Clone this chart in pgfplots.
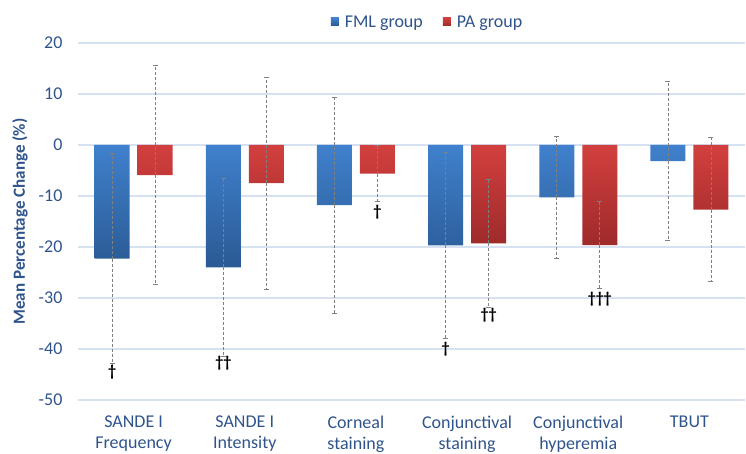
\documentclass[border=0pt]{standalone}
\usepackage{pgfplots}
\pgfplotsset{compat=1.18}
\usepackage{fontspec}
\setmainfont{Carlito}
\definecolor{txt}{RGB}{47,84,140}
\definecolor{blueT}{RGB}{64,128,204}
\definecolor{blueB}{RGB}{42,90,148}
\definecolor{redT}{RGB}{210,64,62}
\definecolor{redB}{RGB}{158,42,42}
\definecolor{gridc}{RGB}{214,226,242}
\pgfplotstableread{
x y e
0 -22.3 20.6
1 -24.0 17.4
2 -11.8 21.2
3 -19.7 18.3
4 -10.25 11.9
5 -3.15 15.55
}\fml
\pgfplotstableread{
x y e
0 -5.9 21.5
1 -7.5 20.8
2 -5.6 5.5
3 -19.3 12.5
4 -19.65 8.5
5 -12.65 14.05
}\pa
\begin{document}
\begin{tikzpicture}
\begin{axis}[
  scale only axis, width=667pt, height=357pt,
  xmin=-0.5, xmax=5.5, ymin=-50, ymax=20,
  ytick={-50,-40,...,20},
  xtick={0,...,5},
  xticklabels={{SANDE I\\Frequency},{SANDE I\\Intensity},{Corneal\\staining},{Conjunctival\\staining},{Conjunctival\\hyperemia},{TBUT}},
  xticklabel style={align=center, font=\fontsize{18}{21}\selectfont, text=txt, yshift=-12pt},
  yticklabel style={font=\fontsize{18}{22}\selectfont, text=txt, xshift=-12pt},
  /pgf/number format/assume math mode=true,
  axis line style={draw=none},
  major tick length=0pt,
  ymajorgrids, grid style={gridc, line width=1.2pt},
  ybar=8pt, bar width=35pt,
  ylabel={Mean Percentage Change (\%)},
  ylabel style={at={(axis description cs:-0.087,0.5)}, anchor=center, font=\bfseries\fontsize{17}{20}\selectfont, text=txt},
  legend columns=2,
  legend style={at={(0.5,1)}, anchor=center, yshift=21pt, xshift=16pt, draw=none, fill=none,
    font=\fontsize{18}{22}\selectfont, text=txt,
    /tikz/every odd column/.append style={column sep=4pt},
    /tikz/every even column/.append style={column sep=18pt}},
  legend image code/.code={\path[#1,draw=none] (0pt,-4pt) rectangle (8pt,4pt);},
  error bars/y dir=both, error bars/y explicit,
  error bars/error bar style={densely dashed, gray, line width=0.8pt},
  error bars/error mark options={solid, gray, mark size=2.5pt, line width=0.8pt, rotate=90},
]
\addplot[draw=none, top color=blueT, bottom color=blueB] table[x=x,y=y,y error=e] {\fml};
\addlegendentry{FML group}
\addplot[draw=none, top color=redT, bottom color=redB] table[x=x,y=y,y error=e] {\pa};
\addlegendentry{PA group}
\begin{scope}[every node/.style={font=\bfseries\fontsize{16}{16}\selectfont, text=black, inner sep=0pt}]
\node[xshift=-21.5pt] at (axis cs:0,-44.6) {†};
\node[xshift=-21.5pt] at (axis cs:1,-42.8) {††};
\node[xshift=21.5pt] at (axis cs:2,-13.2) {†};
\node[xshift=-21.5pt] at (axis cs:3,-40.0) {†};
\node[xshift=21.5pt] at (axis cs:3,-33.4) {††};
\node[xshift=21.5pt] at (axis cs:4,-30.2) {†††};
\end{scope}
\end{axis}
\pgfresetboundingbox
\path ([xshift=-78pt,yshift=-54pt]current axis.south west) rectangle ([xshift=1pt,yshift=43pt]current axis.north east);
\end{tikzpicture}
\end{document}
